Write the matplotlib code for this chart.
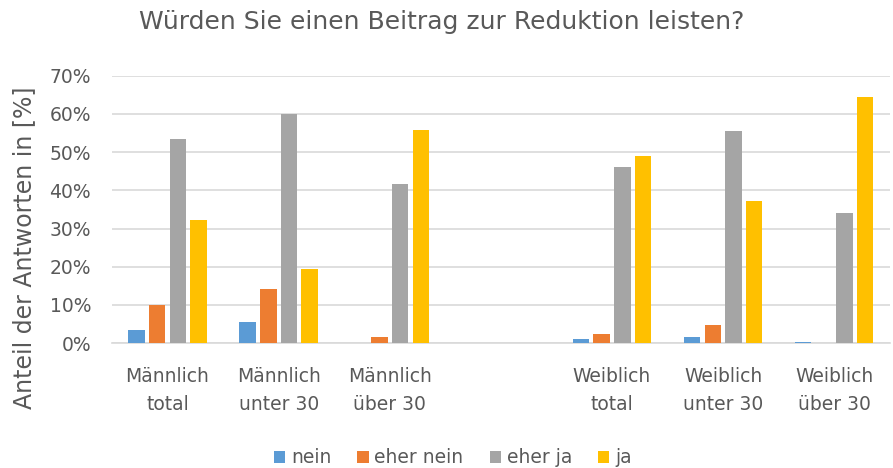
import numpy as np
import matplotlib
matplotlib.use("Agg")
import matplotlib.pyplot as plt
from matplotlib.ticker import PercentFormatter

# categories (empty slot in the middle separates male / female groups)
categories = ["Männlich\ntotal", "Männlich\nunter 30", "Männlich\nüber 30", "",
              "Weiblich\ntotal", "Weiblich\nunter 30", "Weiblich\nüber 30"]
series_names = ["nein", "eher nein", "eher ja", "ja"]
nein = [3.5, 5.5, 0.0, np.nan, 1.1, 1.5, 0.4]
eher_nein = [9.9, 14.2, 1.6, np.nan, 2.4, 4.8, 0.0]
eher_ja = [53.4, 59.9, 41.7, np.nan, 46.0, 55.5, 34.0]
ja = [32.3, 19.3, 55.8, np.nan, 49.0, 37.3, 64.5]
colors = ["#5b9bd5", "#ed7d31", "#a5a5a5", "#ffc000"]

plt.rcParams["font.family"] = ["DejaVu Sans"]
text_color = "#595959"

fig = plt.figure(figsize=(8.93, 4.68), dpi=100)
ax = fig.add_axes([0.1254, 0.267, 0.871, 0.571])

x = np.arange(len(categories))
width = 0.148
step = 0.186
for i, (vals, name, col) in enumerate(zip([nein, eher_nein, eher_ja, ja], series_names, colors)):
    offs = (i - 1.5) * step
    ax.bar(x + offs, np.array(vals) / 100, width, color=col, label=name, zorder=3)

ax.set_xlim(-0.5, len(categories) - 0.5)
ax.set_ylim(0, 0.7)
ax.set_yticks(np.arange(0, 0.71, 0.1))
ax.yaxis.set_major_formatter(PercentFormatter(1.0, decimals=0))
ax.set_xticks(x)
ax.set_xticklabels(categories)
ax.grid(axis="y", color="#d9d9d9", linewidth=1.2, zorder=0)
for s in ["top", "right", "left"]:
    ax.spines[s].set_visible(False)
ax.spines["bottom"].set_color("#d9d9d9")
ax.spines["bottom"].set_linewidth(1.2)
ax.tick_params(axis="both", length=0, colors=text_color, labelsize=13.5)
ax.tick_params(axis="x", pad=17)
ax.tick_params(axis="y", pad=15)
for lbl in ax.get_xticklabels():
    lbl.set_linespacing(1.6)

fig.text(0.027, 0.47, "Anteil der Antworten in [%]", rotation=90,
         ha="center", va="center", color=text_color, fontsize=17)
fig.text(0.495, 0.952, "Würden Sie einen Beitrag zur Reduktion leisten?",
         ha="center", va="center", fontsize=18, color=text_color)

leg = fig.legend(loc="center", bbox_to_anchor=(0.507, 0.022), ncol=4, frameon=False,
                 fontsize=13.5, handlelength=0.6, handleheight=0.6, handletextpad=0.3,
                 columnspacing=1.4)
for t in leg.get_texts():
    t.set_color(text_color)

fig.savefig("out.png", dpi=100)
